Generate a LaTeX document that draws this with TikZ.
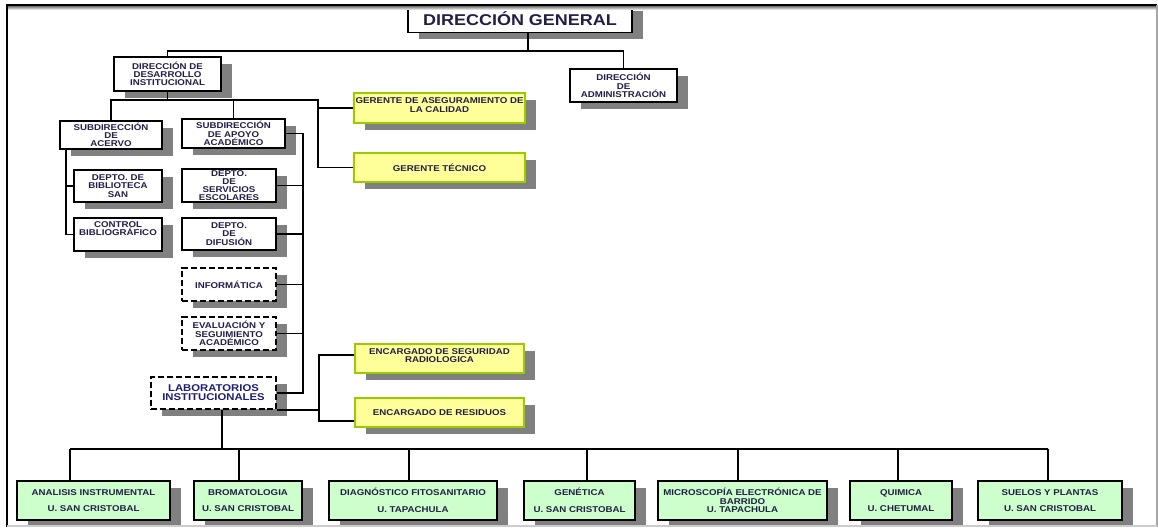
\documentclass[tikz,border=0pt]{standalone}
\usepackage{fontspec}
\newfontfamily\orgfont[FakeStretch=1.15]{Liberation Sans}
\usetikzlibrary{shadows}

\definecolor{orgtext}{RGB}{35,30,70}
\definecolor{orgnavy}{RGB}{30,30,120}
\definecolor{orgyellow}{RGB}{255,255,153}
\definecolor{orgyellowline}{RGB}{153,204,0}
\definecolor{orggreen}{RGB}{204,255,204}

\tikzset{
  box/.style={draw, line width=1.1pt, fill=white, inner sep=0pt, align=center,
    text=orgtext, font=\orgfont\bfseries\fontsize{4.8}{4.7}\selectfont,
    drop shadow={shadow xshift=0.22cm, shadow yshift=-0.14cm, fill=black!50, opacity=1}},
  sz/.style 2 args={minimum width=#1*0.02cm, minimum height=#2*0.02cm},
  dashbox/.style={box, dash pattern=on 3.4pt off 1.7pt},
  yellowbox/.style={box, draw=orgyellowline, fill=orgyellow},
  greenbox/.style={box, fill=orggreen},
  lift/.style={text depth=#1},
  conn/.style={line width=0.8pt},
}

\begin{document}
\begin{tikzpicture}[x=0.02cm, y=-0.02cm]
    \useasboundingbox (0,0) rectangle (1158,527);

    % Top of the chart
    \node[box, sz={224}{28}, font=\orgfont\bfseries\fontsize{8.9}{10}\selectfont] (DG) at (520,18.5) {DIRECCIÓN GENERAL};
    \node[box, sz={107}{34}] (DDI) at (167.5,74) {DIRECCIÓN DE\\DESARROLLO\\INSTITUCIONAL};
    \node[box, sz={107}{33}] (DA) at (623.5,85.5) {DIRECCIÓN\\DE\\ADMINISTRACIÓN};

    % Gerencias
    \node[yellowbox, sz={171}{30}, lift=3.4pt] (GAC) at (439.5,108) {GERENTE DE ASEGURAMIENTO DE\\LA CALIDAD};
    \node[yellowbox, sz={171}{29}] (GT) at (439.5,167.5) {GERENTE TÉCNICO};

    % Subdirecciones and departments
    \node[box, sz={102}{28}] (SA) at (111,135) {SUBDIRECCIÓN\\DE\\ACERVO};
    \node[box, sz={103}{29}] (SAA) at (233.5,133.5) {SUBDIRECCIÓN\\DE APOYO\\ACADÉMICO};
    \node[box, sz={88}{32}] (DB) at (118,186) {DEPTO. DE\\BIBLIOTECA\\SAN};
    \node[box, sz={88}{33}, lift=7pt] (CB) at (118,234.5) {CONTROL\\BIBLIOGRÁFICO};
    \node[box, sz={94}{33}] (DSE) at (229,185.5) {DEPTO.\\DE\\SERVICIOS\\ESCOLARES};
    \node[box, sz={94}{32}] (DD) at (229,234) {DEPTO.\\DE\\DIFUSIÓN};
    \node[dashbox, sz={94}{33}] (INF) at (229,284.5) {INFORMÁTICA};
    \node[dashbox, sz={94}{33}] (EVA) at (229,333.5) {EVALUACIÓN Y\\SEGUIMIENTO\\ACADÉMICO};
    \node[dashbox, sz={125}{32}, text=orgnavy, font=\orgfont\bfseries\fontsize{5.6}{5.1}\selectfont] (LAB) at (213.5,393) {LABORATORIOS\\INSTITUCIONALES};

    % Encargados
    \node[yellowbox, sz={169}{29}, lift=3.4pt] (ESR) at (439.5,358.5) {ENCARGADO DE SEGURIDAD\\RADIOLOGICA};
    \node[yellowbox, sz={169}{29}] (ER) at (439.5,412.5) {ENCARGADO DE RESIDUOS};

    % Laboratories
    \node[greenbox, sz={153}{39}] (B1) at (93.5,500.5) {ANALISIS INSTRUMENTAL\\[4.7pt]U. SAN CRISTOBAL};
    \node[greenbox, sz={108}{39}] (B2) at (248,500.5) {BROMATOLOGIA\\[4.7pt]U. SAN CRISTOBAL};
    \node[greenbox, sz={168}{39}] (B3) at (413,500.5) {DIAGNÓSTICO FITOSANITARIO\\[4.7pt]U. TAPACHULA};
    \node[greenbox, sz={111}{39}] (B4) at (579.5,500.5) {GENÉTICA\\[4.7pt]U. SAN CRISTOBAL};
    \node[greenbox, sz={169}{39}] (B5) at (742.5,500.5) {MICROSCOPÍA ELECTRÓNICA DE\\BARRIDO\\U. TAPACHULA};
    \node[greenbox, sz={102}{39}] (B6) at (901,500.5) {QUIMICA\\[4.7pt]U. CHETUMAL};
    \node[greenbox, sz={144}{39}] (B7) at (1050,500.5) {SUELOS Y PLANTAS\\[4.7pt]U. SAN CRISTOBAL};

    % Connectors at the top
    \coordinate (topbus) at (0,51);
    \coordinate (dgfoot) at ([xshift=0.16cm]DG.south);
    \draw[conn] (dgfoot) -- (dgfoot |- topbus);
    \draw[conn] (DDI.north) |- (dgfoot |- topbus) -| (DA.north);

    % Connectors below DDI
    \coordinate (ddibus) at (0,100);
    \coordinate (grail) at (318,100);
    \draw[conn] (DDI.south) -- (DDI.south |- ddibus);
    \draw[conn] (SA.north) |- (grail) |- (GT.west);
    \draw[conn] (SAA.north) -- (SAA.north |- ddibus);
    \draw[conn] (GAC.west) -- (GAC.west -| grail);

    % Departments of the subdirecciones
    \coordinate (sarail) at ([xshift=0.14cm]SA.south west);
    \draw[conn] (sarail) |- (CB.west);
    \draw[conn] (DB.west) -- (DB.west -| sarail);
    \coordinate (rail) at (303,0);
    \draw[conn] (SAA.east) -| (LAB.east -| rail) -- (LAB.east);
    \foreach \n in {DSE,DD,INF,EVA}
        \draw[conn] (\n.east) -- (\n.east -| rail);

    % Encargados
    \coordinate (encrail) at (319,0);
    \coordinate (esrin) at ([yshift=0.07cm]ESR.west);
    \coordinate (erin) at ([yshift=-0.17cm]ER.west);
    \draw[conn] (esrin) -| (erin -| encrail) -- (erin);
    \draw[conn] (LAB.south east) -- (LAB.south east -| encrail);

    % Laboratories bus
    \coordinate (labbus) at (0,449);
    \coordinate (labfoot) at ([xshift=0.17cm]LAB.south);
    \draw[conn] (labfoot) -- (labfoot |- labbus);
    \foreach \n/\dx in {B1/-23.5, B2/-9, B3/-4, B4/7.5, B5/-4.5, B6/-3, B7/-2}
        \draw[conn] (\n.north) ++(\dx,0) coordinate (drop\n) -- (drop\n |- labbus);
    \draw[conn] (dropB1 |- labbus) -- (dropB7 |- labbus);

    % Frame
    \shade[top color=black!55, bottom color=white] (8,6) rectangle (1157,10);
    \draw[line width=1.2pt] (7,527) -- (7,5) -- (1157,5);
    \draw[black!35, line width=0.8pt] (1157,5) -- (1157,527);
    \draw[black!20, line width=0.6pt] (7,526) -- (1157,526);
\end{tikzpicture}
\end{document}
